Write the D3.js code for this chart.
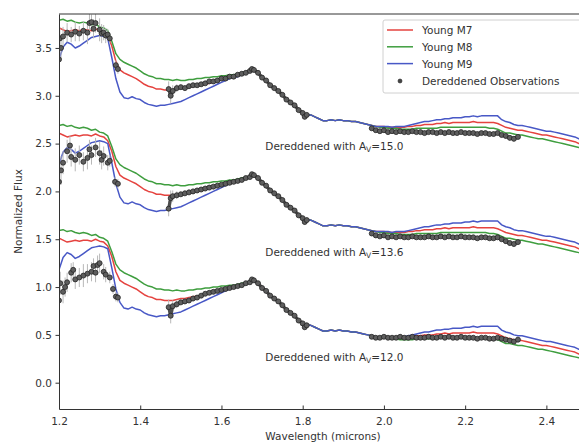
<!DOCTYPE html>
<html>
<head>
<meta charset="utf-8">
<style>
  body { margin: 0; background: #fff; }
  svg { font-family: "DejaVu Sans", sans-serif; }
</style>
</head>
<body>
<svg width="579" height="445"></svg>
<script src="https://d3js.org/d3.v7.min.js"></script>
<script>

// model wavelength grid (microns)
var wave = [1.20,1.21,1.22,1.23,1.24,1.25,1.26,1.27,1.28,1.29,1.30,1.31,1.32,1.33,1.34,1.35,1.36,1.37,1.38,1.39,
  1.40,1.41,1.42,1.43,1.44,1.45,1.46,1.47,1.48,1.49,1.50,1.51,1.52,1.53,1.54,1.55,1.56,1.57,1.58,1.59,
  1.60,1.61,1.62,1.63,1.64,1.65,1.66,1.67,1.68,1.69,1.70,1.71,1.72,1.73,1.74,1.75,1.76,1.77,1.78,1.79,
  1.80,1.81,1.82,1.83,1.84,1.85,1.86,1.87,1.88,1.89,1.90,1.91,1.92,1.93,1.94,1.95,1.96,1.97,1.98,1.99,
  2.00,2.01,2.02,2.03,2.04,2.05,2.06,2.07,2.08,2.09,2.10,2.11,2.12,2.13,2.14,2.15,2.16,2.17,2.18,2.19,
  2.20,2.21,2.22,2.23,2.24,2.25,2.26,2.27,2.28,2.29,2.30,2.31,2.32,2.33,2.34,2.35,2.36,2.37,2.38,2.39,
  2.40,2.41,2.42,2.43,2.44,2.45,2.46,2.47,2.48,2.49,2.50];

// template spectra (top set, no offset)
var youngM7 = [3.71,3.69,3.67,3.68,3.69,3.68,3.69,3.69,3.68,3.70,3.68,3.67,3.63,3.52,3.36,3.27,3.24,3.22,3.20,3.18,
  3.15,3.12,3.10,3.09,3.07,3.07,3.06,3.06,3.06,3.07,3.08,3.08,3.09,3.10,3.10,3.11,3.12,3.13,3.14,3.15,
  3.17,3.18,3.19,3.20,3.21,3.23,3.24,3.25,3.27,3.25,3.20,3.15,3.11,3.08,3.05,3.01,2.97,2.94,2.90,2.86,
  2.82,2.80,2.80,2.78,2.76,2.74,2.74,2.75,2.74,2.75,2.74,2.74,2.73,2.73,2.72,2.71,2.70,2.69,2.68,2.68,
  2.68,2.67,2.67,2.67,2.67,2.67,2.68,2.68,2.69,2.69,2.70,2.70,2.70,2.71,2.71,2.72,2.71,2.72,2.72,2.72,
  2.72,2.72,2.73,2.72,2.72,2.72,2.72,2.72,2.71,2.69,2.67,2.66,2.65,2.64,2.64,2.63,2.62,2.61,2.60,2.59,
  2.59,2.58,2.57,2.56,2.55,2.54,2.53,2.52,2.50,2.49,2.48];

var youngM8 = [3.79,3.80,3.78,3.79,3.77,3.76,3.77,3.76,3.74,3.75,3.72,3.71,3.68,3.57,3.44,3.38,3.35,3.33,3.31,3.29,
  3.26,3.23,3.21,3.20,3.18,3.18,3.17,3.17,3.16,3.17,3.16,3.16,3.17,3.17,3.18,3.18,3.19,3.19,3.20,3.20,
  3.21,3.21,3.22,3.22,3.23,3.24,3.25,3.26,3.27,3.25,3.20,3.15,3.11,3.08,3.05,3.01,2.97,2.94,2.90,2.86,
  2.82,2.80,2.80,2.78,2.76,2.74,2.74,2.75,2.74,2.75,2.74,2.74,2.73,2.73,2.72,2.71,2.70,2.69,2.68,2.67,
  2.67,2.66,2.66,2.66,2.65,2.65,2.65,2.65,2.66,2.66,2.66,2.66,2.66,2.66,2.67,2.67,2.67,2.67,2.67,2.67,
  2.67,2.67,2.67,2.67,2.67,2.67,2.66,2.66,2.65,2.63,2.61,2.61,2.60,2.59,2.59,2.58,2.57,2.56,2.55,2.55,
  2.54,2.53,2.52,2.51,2.50,2.49,2.48,2.47,2.46,2.45,2.44];

var youngM9 = [3.38,3.51,3.56,3.54,3.50,3.52,3.55,3.58,3.61,3.62,3.63,3.62,3.60,3.40,3.18,3.04,2.98,2.97,2.99,2.97,
  2.96,2.93,2.91,2.90,2.89,2.90,2.90,2.91,2.92,2.93,2.94,2.96,2.98,3.00,3.02,3.04,3.06,3.08,3.10,3.12,
  3.14,3.16,3.18,3.19,3.20,3.22,3.23,3.25,3.26,3.25,3.20,3.15,3.11,3.08,3.05,3.01,2.97,2.94,2.90,2.86,
  2.82,2.80,2.80,2.78,2.76,2.74,2.74,2.75,2.74,2.75,2.74,2.74,2.73,2.73,2.72,2.71,2.70,2.69,2.68,2.68,
  2.68,2.68,2.67,2.68,2.68,2.68,2.69,2.70,2.71,2.72,2.73,2.73,2.74,2.75,2.75,2.76,2.76,2.77,2.77,2.77,
  2.78,2.78,2.79,2.78,2.79,2.79,2.79,2.79,2.79,2.75,2.73,2.72,2.70,2.69,2.69,2.68,2.67,2.66,2.65,2.64,
  2.63,2.63,2.62,2.61,2.60,2.59,2.58,2.57,2.55,2.54,2.53];

// vertical offsets of the three sets
var offsets = [0, -1.1, -2.2];
var avLabels = ["15.0", "13.6", "12.0"];

// observations: [wavelength, flux, error]
var obs1 = [[1.200,3.38,0.15],[1.202,3.60,0.12],[1.205,3.50,0.12],[1.21,3.62,0.10],[1.22,3.66,0.10],[1.23,3.64,0.08],[1.24,3.67,0.10],
  [1.25,3.65,0.08],[1.26,3.68,0.10],[1.27,3.66,0.12],[1.275,3.76,0.10],[1.28,3.77,0.08],[1.285,3.70,0.10],
  [1.29,3.76,0.10],[1.30,3.69,0.12],[1.305,3.65,0.10],[1.31,3.66,0.08],[1.315,3.63,0.08],[1.32,3.64,0.06],
  [1.325,3.60,0.05],[1.34,3.32,0.05],[1.345,3.28,0.05],
  [1.47,3.07,0.08],[1.475,3.00,0.08],[1.48,3.05,0.06],[1.49,3.08,0.04],[1.50,3.09,0.03],[1.51,3.08,0.03],[1.52,3.10,0.03],
  [1.53,3.11,0.03],[1.54,3.11,0.02],[1.55,3.12,0.02],[1.56,3.13,0.02],[1.57,3.15,0.02],[1.58,3.15,0.02],[1.59,3.16,0.02],
  [1.60,3.18,0.02],[1.61,3.18,0.02],[1.62,3.20,0.02],[1.63,3.20,0.02],[1.64,3.22,0.02],[1.65,3.23,0.02],[1.66,3.24,0.02],
  [1.67,3.26,0.02],[1.675,3.28,0.02],[1.68,3.27,0.02],[1.69,3.24,0.02],[1.70,3.19,0.02],[1.71,3.16,0.02],[1.72,3.11,0.02],
  [1.73,3.08,0.02],[1.74,3.05,0.02],[1.75,3.01,0.02],[1.76,2.96,0.02],[1.77,2.93,0.02],[1.78,2.90,0.02],[1.79,2.85,0.02],
  [1.80,2.82,0.03],[1.805,2.78,0.03],[1.81,2.80,0.03],
  [1.97,2.66,0.02],[1.98,2.64,0.02],[1.99,2.63,0.02],[2.00,2.64,0.02],[2.01,2.62,0.02],[2.02,2.63,0.02],[2.03,2.62,0.02],
  [2.04,2.63,0.02],[2.05,2.62,0.02],[2.06,2.62,0.02],[2.07,2.63,0.02],[2.08,2.62,0.02],[2.09,2.62,0.02],[2.10,2.61,0.02],
  [2.11,2.62,0.02],[2.12,2.62,0.02],[2.13,2.61,0.02],[2.14,2.62,0.02],[2.15,2.61,0.02],[2.16,2.62,0.02],[2.17,2.61,0.02],
  [2.18,2.61,0.02],[2.19,2.62,0.02],[2.20,2.61,0.02],[2.21,2.61,0.02],[2.22,2.61,0.02],[2.23,2.60,0.02],[2.24,2.61,0.02],
  [2.25,2.61,0.02],[2.26,2.60,0.02],[2.27,2.60,0.02],[2.28,2.61,0.02],[2.29,2.59,0.02],[2.30,2.58,0.03],[2.31,2.56,0.03],
  [2.32,2.55,0.03],[2.33,2.57,0.03]];

var obs2 = [[1.200,2.10,0.15],[1.205,2.22,0.15],[1.21,2.30,0.12],[1.22,2.42,0.12],[1.227,2.48,0.10],[1.23,2.36,0.10],
  [1.24,2.33,0.12],[1.25,2.38,0.10],[1.26,2.31,0.10],[1.27,2.35,0.12],[1.275,2.44,0.10],[1.28,2.38,0.10],
  [1.29,2.46,0.10],[1.30,2.40,0.12],[1.305,2.33,0.10],[1.31,2.37,0.10],[1.32,2.30,0.08],[1.325,2.32,0.06],
  [1.338,2.10,0.05],[1.345,2.08,0.05],
  [1.47,1.82,0.08],[1.475,1.93,0.08],[1.48,1.95,0.06],[1.49,1.96,0.04],[1.50,1.97,0.03],[1.51,1.98,0.03],[1.52,1.99,0.03],
  [1.53,2.00,0.03],[1.54,2.01,0.02],[1.55,2.02,0.02],[1.56,2.03,0.02],[1.57,2.04,0.02],[1.58,2.05,0.02],[1.59,2.06,0.02],
  [1.60,2.07,0.02],[1.61,2.08,0.02],[1.62,2.09,0.02],[1.63,2.10,0.02],[1.64,2.11,0.02],[1.65,2.12,0.02],[1.66,2.14,0.02],
  [1.67,2.15,0.02],[1.675,2.18,0.02],[1.68,2.17,0.02],[1.69,2.14,0.02],[1.70,2.09,0.02],[1.71,2.06,0.02],[1.72,2.01,0.02],
  [1.73,1.98,0.02],[1.74,1.95,0.02],[1.75,1.91,0.02],[1.76,1.86,0.02],[1.77,1.83,0.02],[1.78,1.80,0.02],[1.79,1.75,0.02],
  [1.80,1.72,0.03],[1.805,1.68,0.03],[1.81,1.70,0.03],
  [1.97,1.56,0.02],[1.98,1.54,0.02],[1.99,1.53,0.02],[2.00,1.54,0.02],[2.01,1.52,0.02],[2.02,1.53,0.02],[2.03,1.52,0.02],
  [2.04,1.53,0.02],[2.05,1.52,0.02],[2.06,1.52,0.02],[2.07,1.53,0.02],[2.08,1.52,0.02],[2.09,1.52,0.02],[2.10,1.52,0.02],
  [2.11,1.53,0.02],[2.12,1.52,0.02],[2.13,1.52,0.02],[2.14,1.53,0.02],[2.15,1.52,0.02],[2.16,1.53,0.02],[2.17,1.52,0.02],
  [2.18,1.52,0.02],[2.19,1.53,0.02],[2.20,1.52,0.02],[2.21,1.52,0.02],[2.22,1.52,0.02],[2.23,1.51,0.02],[2.24,1.52,0.02],
  [2.25,1.52,0.02],[2.26,1.51,0.02],[2.27,1.51,0.02],[2.28,1.52,0.02],[2.29,1.50,0.02],[2.30,1.48,0.03],[2.31,1.46,0.03],
  [2.32,1.45,0.03],[2.33,1.47,0.03]];

var obs3 = [[1.200,0.86,0.15],[1.203,1.04,0.12],[1.21,0.95,0.12],[1.215,1.00,0.10],[1.22,1.05,0.10],[1.23,1.15,0.10],
  [1.235,1.18,0.08],[1.24,1.08,0.10],[1.25,1.10,0.10],[1.26,1.12,0.12],[1.27,1.14,0.10],[1.28,1.16,0.10],
  [1.285,1.22,0.08],[1.29,1.15,0.10],[1.295,1.23,0.10],[1.30,1.25,0.10],[1.31,1.16,0.08],[1.315,1.13,0.08],
  [1.325,1.10,0.06],[1.333,0.98,0.05],[1.34,0.90,0.05],[1.345,0.89,0.05],
  [1.47,0.79,0.08],[1.475,0.70,0.08],[1.48,0.80,0.06],[1.49,0.82,0.04],[1.50,0.84,0.03],[1.51,0.85,0.03],[1.52,0.86,0.03],
  [1.53,0.88,0.03],[1.54,0.89,0.02],[1.55,0.91,0.02],[1.56,0.93,0.02],[1.57,0.94,0.02],[1.58,0.95,0.02],[1.59,0.96,0.02],
  [1.60,0.97,0.02],[1.61,0.98,0.02],[1.62,0.99,0.02],[1.63,1.00,0.02],[1.64,1.01,0.02],[1.65,1.02,0.02],[1.66,1.04,0.02],
  [1.67,1.05,0.02],[1.675,1.08,0.02],[1.68,1.07,0.02],[1.69,1.04,0.02],[1.70,0.99,0.02],[1.71,0.96,0.02],[1.72,0.91,0.02],
  [1.73,0.88,0.02],[1.74,0.85,0.02],[1.75,0.81,0.02],[1.76,0.76,0.02],[1.77,0.73,0.02],[1.78,0.70,0.02],[1.79,0.65,0.02],
  [1.80,0.62,0.03],[1.805,0.58,0.03],[1.81,0.60,0.03],
  [1.97,0.48,0.02],[1.98,0.47,0.02],[1.99,0.47,0.02],[2.00,0.48,0.02],[2.01,0.47,0.02],[2.02,0.47,0.02],[2.03,0.47,0.02],
  [2.04,0.48,0.02],[2.05,0.47,0.02],[2.06,0.47,0.02],[2.07,0.48,0.02],[2.08,0.47,0.02],[2.09,0.47,0.02],[2.10,0.47,0.02],
  [2.11,0.48,0.02],[2.12,0.47,0.02],[2.13,0.47,0.02],[2.14,0.48,0.02],[2.15,0.47,0.02],[2.16,0.48,0.02],[2.17,0.47,0.02],
  [2.18,0.47,0.02],[2.19,0.48,0.02],[2.20,0.47,0.02],[2.21,0.47,0.02],[2.22,0.47,0.02],[2.23,0.46,0.02],[2.24,0.47,0.02],
  [2.25,0.47,0.02],[2.26,0.46,0.02],[2.27,0.46,0.02],[2.28,0.47,0.02],[2.29,0.46,0.02],[2.30,0.45,0.03],[2.31,0.44,0.03],
  [2.32,0.43,0.03],[2.33,0.45,0.03]];

var observations = [obs1, obs2, obs3];

var xTicks = [1.2, 1.4, 1.6, 1.8, 2.0, 2.2, 2.4];
var yTicks = [0.0, 0.5, 1.0, 1.5, 2.0, 2.5, 3.0, 3.5];

var models = [
  {name: "Young M7", values: youngM7, color: "#e5433f"},
  {name: "Young M8", values: youngM8, color: "#3f9e3f"},
  {name: "Young M9", values: youngM9, color: "#4858c6"}
];

var svg = d3.select("svg"),
    plotLeft = 59, plotTop = 14, plotBottom = 409, plotRight = 587;

var x = d3.scaleLinear().domain([1.2, 2.5]).range([plotLeft, plotRight]);
var y = d3.scaleLinear().domain([-0.275, 3.855]).range([plotBottom, plotTop]);

svg.append("clipPath").attr("id", "clip")
  .append("rect").attr("x", plotLeft).attr("y", plotTop)
  .attr("width", plotRight - plotLeft).attr("height", plotBottom - plotTop);

var plot = svg.append("g").attr("clip-path", "url(#clip)");

// model spectra, drawn for each set with its offset
offsets.forEach(function(off) {
  models.forEach(function(m) {
    var line = d3.line()
      .x(function(d, i) { return x(wave[i]); })
      .y(function(d) { return y(d + off); });
    plot.append("path")
      .attr("d", line(m.values))
      .attr("fill", "none")
      .attr("stroke", m.color)
      .attr("stroke-width", 1.5)
      .attr("stroke-linejoin", "round");
  });
});

// observations with error bars
var obsLine = d3.line()
  .defined(function(d, i, arr) { return d[0] > 1.46; })
  .x(function(d) { return x(d[0]); })
  .y(function(d) { return y(d[1]); });

observations.forEach(function(obs) {
  plot.append("g").selectAll("line")
    .data(obs).enter().append("line")
      .attr("x1", function(d) { return x(d[0]); })
      .attr("x2", function(d) { return x(d[0]); })
      .attr("y1", function(d) { return y(d[1] - d[2]); })
      .attr("y2", function(d) { return y(d[1] + d[2]); })
      .attr("stroke", "#b8b8b8")
      .attr("stroke-width", 1);
  // dense markers blend into a dark band; split at the gaps between bands
  var segs = [], cur = [];
  obs.forEach(function(d, i) {
    if (i > 0 && d[0] - obs[i - 1][0] > 0.02) { segs.push(cur); cur = []; }
    cur.push(d);
  });
  segs.push(cur);
  segs.forEach(function(s) {
    if (s[0][0] < 1.46) return;
    plot.append("path").attr("d", obsLine(s))
      .attr("fill", "none").attr("stroke", "#4d4d4d").attr("stroke-width", 3.2)
      .attr("stroke-linejoin", "round");
  });
  plot.append("g").selectAll("circle")
    .data(obs).enter().append("circle")
      .attr("cx", function(d) { return x(d[0]); })
      .attr("cy", function(d) { return y(d[1]); })
      .attr("r", 2.5)
      .attr("fill", "#5e5e5e")
      .attr("stroke", "#262626")
      .attr("stroke-width", 0.8);
});

// annotations
offsets.forEach(function(off, i) {
  var t = svg.append("text")
    .attr("x", x(1.708))
    .attr("y", y(2.47 + off) + 4)
    .attr("font-size", 10.5)
    .attr("fill", "#333");
  t.append("tspan").text("Dereddened with A");
  t.append("tspan").attr("font-size", 7.5).attr("dy", 2).text("V");
  t.append("tspan").attr("dy", -2).text("=" + avLabels[i]);
});

// axes
var xAxis = svg.append("g")
  .attr("transform", "translate(0," + plotBottom + ")")
  .call(d3.axisBottom(x).tickValues(xTicks).tickFormat(d3.format(".1f")).tickSizeInner(-3.5).tickSizeOuter(0).tickPadding(9));
var yAxis = svg.append("g")
  .attr("transform", "translate(" + plotLeft + ",0)")
  .call(d3.axisLeft(y).tickValues(yTicks).tickFormat(d3.format(".1f")).tickSizeInner(3.5).tickSizeOuter(0).tickPadding(3.5));
[xAxis, yAxis].forEach(function(a) {
  a.select(".domain").attr("stroke", "#333").attr("stroke-width", 1);
  a.selectAll(".tick line").attr("stroke", "#333");
  a.selectAll(".tick text").attr("font-size", 10.5).attr("fill", "#333")
    .attr("font-family", "DejaVu Sans, sans-serif");
});
svg.append("line").attr("x1", plotLeft).attr("x2", plotRight).attr("y1", plotTop).attr("y2", plotTop)
  .attr("stroke", "#333").attr("stroke-width", 1);

svg.append("text")
  .attr("x", (plotLeft + plotRight) / 2).attr("y", 440)
  .attr("text-anchor", "middle").attr("font-size", 10.5).attr("fill", "#333")
  .text("Wavelength (microns)");
svg.append("text")
  .attr("transform", "translate(22," + (plotTop + plotBottom) / 2 + ") rotate(-90)")
  .attr("text-anchor", "middle").attr("font-size", 10.5).attr("fill", "#333")
  .text("Normalized Flux");

// legend
var legend = svg.append("g").attr("transform", "translate(383,20)");
legend.append("rect").attr("width", 200).attr("height", 73)
  .attr("fill", "#fff").attr("fill-opacity", 0.85).attr("stroke", "#d0d0d0").attr("rx", 2);
models.forEach(function(m, i) {
  var yy = 10 + i * 16.8;
  legend.append("line").attr("x1", 4).attr("x2", 30).attr("y1", yy).attr("y2", yy)
    .attr("stroke", m.color).attr("stroke-width", 1.5);
  legend.append("text").attr("x", 39).attr("y", yy + 4)
    .attr("font-size", 10.5).attr("fill", "#333").text(m.name);
});
legend.append("circle").attr("cx", 17).attr("cy", 61).attr("r", 2)
  .attr("fill", "#444").attr("stroke", "#222").attr("stroke-width", 0.6);
legend.append("text").attr("x", 39).attr("y", 65)
  .attr("font-size", 10.5).attr("fill", "#333").text("Dereddened Observations");

</script>
</body>
</html>
